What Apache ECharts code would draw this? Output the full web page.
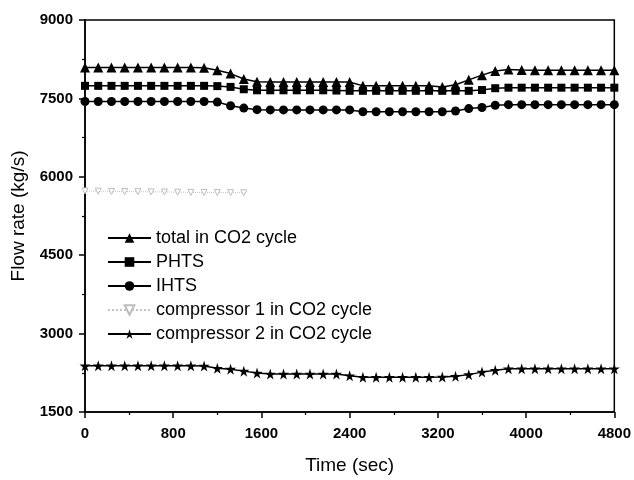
<!DOCTYPE html>
<html>
<head>
<meta charset="utf-8">
<script src="https://cdn.jsdelivr.net/npm/echarts@6/dist/echarts.min.js"></script>
<style>
  html, body { margin: 0; padding: 0; background: #fff; }
  #chart { width: 634px; height: 480px; }
</style>
</head>
<body>
<div id="chart"></div>
<script>
var times = [0, 120, 240, 360, 480, 600, 720, 840, 960, 1080, 1200, 1320, 1440, 1560, 1680, 1800, 1920, 2040, 2160, 2280,
             2400, 2520, 2640, 2760, 2880, 3000, 3120, 3240, 3360, 3480, 3600, 3720, 3840, 3960, 4080, 4200, 4320, 4440, 4560, 4680, 4800];

var totalCO2 = [8090, 8090, 8090, 8090, 8090, 8090, 8090, 8090, 8090, 8085, 8040, 7975, 7870, 7820, 7815, 7815, 7815, 7815, 7815, 7815,
                7815, 7740, 7740, 7740, 7740, 7740, 7740, 7720, 7760, 7855, 7945, 8025, 8055, 8045, 8040, 8040, 8040, 8040, 8040, 8040, 8040];

var phts = [7740, 7740, 7740, 7740, 7740, 7740, 7740, 7740, 7740, 7740, 7735, 7720, 7675, 7655, 7655, 7655, 7655, 7655, 7655, 7650,
            7645, 7645, 7645, 7645, 7645, 7645, 7645, 7645, 7645, 7645, 7660, 7695, 7705, 7705, 7705, 7705, 7705, 7705, 7705, 7705, 7705];

var ihts = [7440, 7440, 7440, 7440, 7440, 7440, 7440, 7440, 7440, 7440, 7430, 7360, 7315, 7285, 7280, 7280, 7280, 7280, 7280, 7280,
            7280, 7245, 7245, 7245, 7245, 7245, 7245, 7245, 7260, 7305, 7325, 7370, 7380, 7380, 7380, 7380, 7380, 7380, 7380, 7380, 7380];

var comp1 = [5730, 5725, 5720, 5718, 5715, 5712, 5710, 5706, 5702, 5700, 5698, 5696, 5694];

var comp2 = [2383, 2383, 2383, 2383, 2383, 2383, 2383, 2383, 2383, 2380, 2335, 2320, 2282, 2245, 2225, 2225, 2225, 2225, 2225, 2225,
             2195, 2165, 2165, 2165, 2165, 2165, 2165, 2168, 2183, 2215, 2263, 2300, 2328, 2328, 2328, 2328, 2328, 2328, 2328, 2328, 2328];

var names = ['total in CO2 cycle', 'PHTS', 'IHTS', 'compressor 1 in CO2 cycle', 'compressor 2 in CO2 cycle'];

function pairs(vals) {
    return vals.map(function (v, i) { return [times[i], v]; });
}

var starPath = 'path://M50,0 L61,35 L98,35 L68,57 L79,91 L50,70 L21,91 L32,57 L2,35 L39,35 Z';
var downTri = 'path://M0,0 L10,0 L5,9 Z';
var font = "'Liberation Sans', Arial, sans-serif";

var chart = echarts.init(document.getElementById('chart'));
chart.setOption({
    animation: false,
    textStyle: { fontFamily: font, color: '#000' },
    grid: {
        left: 85, right: 17, top: 20, bottom: 67,
        show: true, borderColor: '#000', borderWidth: 1.5
    },
    legend: {
        data: names,
        orient: 'vertical',
        left: 107, top: 229,
        padding: 0,
        itemWidth: 43, itemHeight: 12, itemGap: 6,
        textStyle: { fontSize: 18, lineHeight: 18, fontFamily: font, color: '#000' }
    },
    xAxis: {
        type: 'value',
        min: 0, max: 4800, interval: 800,
        name: 'Time (sec)',
        nameLocation: 'middle',
        nameGap: 44,
        nameTextStyle: { fontSize: 19, fontFamily: font, color: '#000' },
        axisLine: { onZero: false, lineStyle: { color: '#000', width: 1.5 } },
        axisTick: { length: 6, lineStyle: { color: '#000', width: 1.5 } },
        minorTick: { show: true, splitNumber: 2, length: 3, lineStyle: { color: '#000', width: 1.2 } },
        axisLabel: {
            fontSize: 15, fontWeight: 'bold', margin: 14, color: '#000', fontFamily: font,
            formatter: function (v) { return String(v); }
        },
        splitLine: { show: false }
    },
    yAxis: {
        type: 'value',
        min: 1500, max: 9000, interval: 1500,
        name: 'Flow rate (kg/s)',
        nameLocation: 'middle',
        nameGap: 57,
        nameTextStyle: { fontSize: 19, fontFamily: font, color: '#000' },
        axisLine: { show: true, onZero: false, lineStyle: { color: '#000', width: 1.5 } },
        axisTick: { show: true, length: 6, lineStyle: { color: '#000', width: 1.5 } },
        minorTick: { show: true, splitNumber: 2, length: 3, lineStyle: { color: '#000', width: 1.2 } },
        axisLabel: {
            fontSize: 15, fontWeight: 'bold', margin: 12, color: '#000', fontFamily: font,
            formatter: function (v) { return String(v); }
        },
        splitLine: { show: false }
    },
    series: [
        {
            name: names[0], type: 'line', data: pairs(totalCO2),
            symbol: 'triangle', symbolSize: 10,
            lineStyle: { color: '#000', width: 1.5 }, itemStyle: { color: '#000' }
        },
        {
            name: names[1], type: 'line', data: pairs(phts),
            symbol: 'rect', symbolSize: 8,
            lineStyle: { color: '#000', width: 1.5 }, itemStyle: { color: '#000' }
        },
        {
            name: names[2], type: 'line', data: pairs(ihts),
            symbol: 'circle', symbolSize: 9,
            lineStyle: { color: '#000', width: 1.5 }, itemStyle: { color: '#000' }
        },
        {
            name: names[3], type: 'line', data: pairs(comp1),
            symbol: downTri, symbolSize: 6,
            lineStyle: { color: '#c4c4c4', width: 1, type: 'dotted' },
            itemStyle: { color: '#fff', borderColor: '#bdbdbd', borderWidth: 1 }
        },
        {
            name: names[4], type: 'line', data: pairs(comp2),
            symbol: starPath, symbolSize: 11,
            lineStyle: { color: '#000', width: 1.5 }, itemStyle: { color: '#000' }
        }
    ]
});
</script>
</body>
</html>
